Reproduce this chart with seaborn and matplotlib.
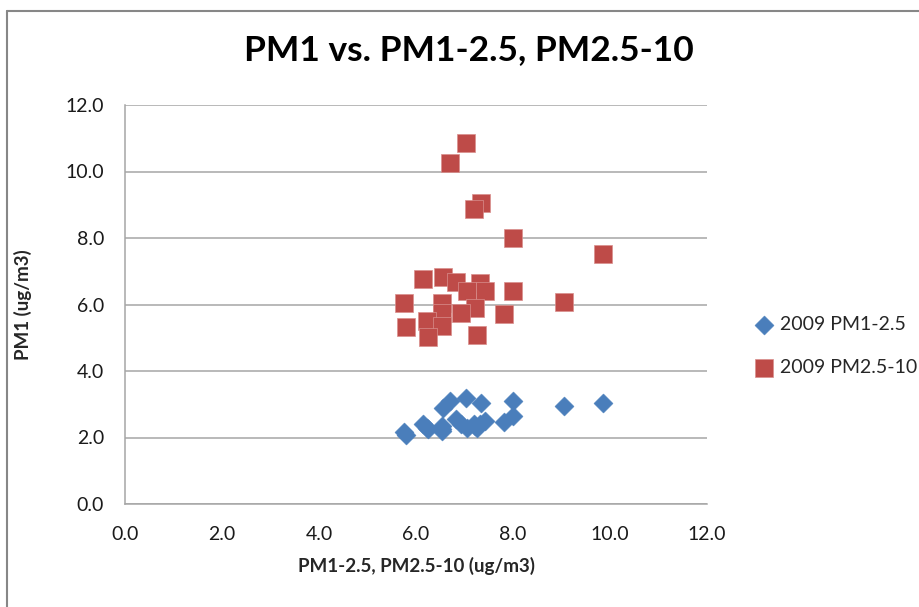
import matplotlib
matplotlib.use("Agg")
import matplotlib.pyplot as plt
from matplotlib.lines import Line2D
import numpy as np
import pandas as pd
import seaborn as sns

# Shared x values (PM1-2.5 / PM2.5-10 pairs)
x_vals = [7.03, 6.70, 7.35, 7.20, 7.99, 9.86, 6.15, 6.56, 6.82, 7.32, 7.06, 7.42, 7.99,
          5.75, 6.53, 9.05, 7.22, 6.92, 6.53, 7.81, 5.79, 6.22, 6.53, 6.25, 7.26]
# PM1 values, series "2009 PM1-2.5"
pm1_vs_fine = [3.18, 3.10, 3.05, 2.40, 3.10, 3.05, 2.42, 2.90, 2.55, 2.40, 2.30, 2.50, 2.65,
               2.18, 2.25, 2.95, 2.35, 2.40, 2.35, 2.48, 2.08, 2.28, 2.20, 2.25, 2.30]
# PM1 values, series "2009 PM2.5-10"
pm1_vs_coarse = [10.85, 10.25, 9.04, 8.86, 7.99, 7.52, 6.76, 6.84, 6.69, 6.66, 6.42, 6.42, 6.42,
                 6.05, 6.04, 6.08, 5.89, 5.75, 5.75, 5.70, 5.33, 5.50, 5.35, 5.01, 5.08]
series_names = ["2009 PM1-2.5", "2009 PM2.5-10"]
ticks = [0.0, 2.0, 4.0, 6.0, 8.0, 10.0, 12.0]

df = pd.DataFrame({
    "x": x_vals + x_vals,
    "y": pm1_vs_fine + pm1_vs_coarse,
    "series": [series_names[0]] * len(x_vals) + [series_names[1]] * len(x_vals),
})

sns.set_theme(style="white")
plt.rcParams["font.family"] = ["Lato", "DejaVu Sans"]

fig = plt.figure(figsize=(9.2, 6.07), dpi=100)
ax = fig.add_axes([125 / 920, 1 - 504 / 607, 582 / 920, 399 / 607])

blue = "#4A7EBB"
red = "#BE4B48"

sns.scatterplot(data=df[df.series == series_names[0]], x="x", y="y", ax=ax,
                marker="D", s=95, color=blue, edgecolor=blue, linewidth=0.3,
                label=series_names[0], zorder=3)
sns.scatterplot(data=df[df.series == series_names[1]], x="x", y="y", ax=ax,
                marker="s", s=165, color=red, edgecolor="#D98F8D", linewidth=0.5,
                label=series_names[1], zorder=3)

ax.set_xlim(0, 12)
ax.set_ylim(0, 12)
ax.set_xticks(ticks)
ax.set_yticks(ticks)
ax.set_xticklabels([f"{t:.1f}" for t in ticks], fontsize=14, color="#1a1a1a")
ax.set_yticklabels([f"{t:.1f}" for t in ticks], fontsize=14, color="#1a1a1a")
ax.tick_params(axis="y", length=0, pad=15)
ax.tick_params(axis="x", length=0, pad=16)

ax.grid(axis="y", color="#A6A6A6", linewidth=1.1)
ax.grid(axis="x", visible=False)
for side in ["top", "right"]:
    ax.spines[side].set_visible(False)
for side in ["left", "bottom"]:
    ax.spines[side].set_color("#A6A6A6")
    ax.spines[side].set_linewidth(1.1)

ax.set_xlabel("PM1-2.5, PM2.5-10 (ug/m3)", fontsize=13.5, fontweight="bold", labelpad=9.5)
ax.set_ylabel("PM1 (ug/m3)", fontsize=13.5, fontweight="bold", labelpad=24)

fig.suptitle("PM1 vs. PM1-2.5, PM2.5-10", x=469 / 920, y=1 - 50 / 607, va="center",
             fontsize=25.5, fontweight="bold", color="#000000")

ax.legend(loc="center left", bbox_to_anchor=(1.068, 0.396), frameon=False,
          fontsize=14, handletextpad=0.3, labelspacing=1.3, borderaxespad=0,
          handlelength=1.0)

# chart area frame
fig.add_artist(Line2D([7 / 920, 7 / 920], [0, 1 - 11 / 607], transform=fig.transFigure,
                      color="#878787", linewidth=1.5))
fig.add_artist(Line2D([7 / 920, 1], [1 - 11 / 607, 1 - 11 / 607], transform=fig.transFigure,
                      color="#878787", linewidth=1.5))

fig.savefig("out.png", dpi=100)
